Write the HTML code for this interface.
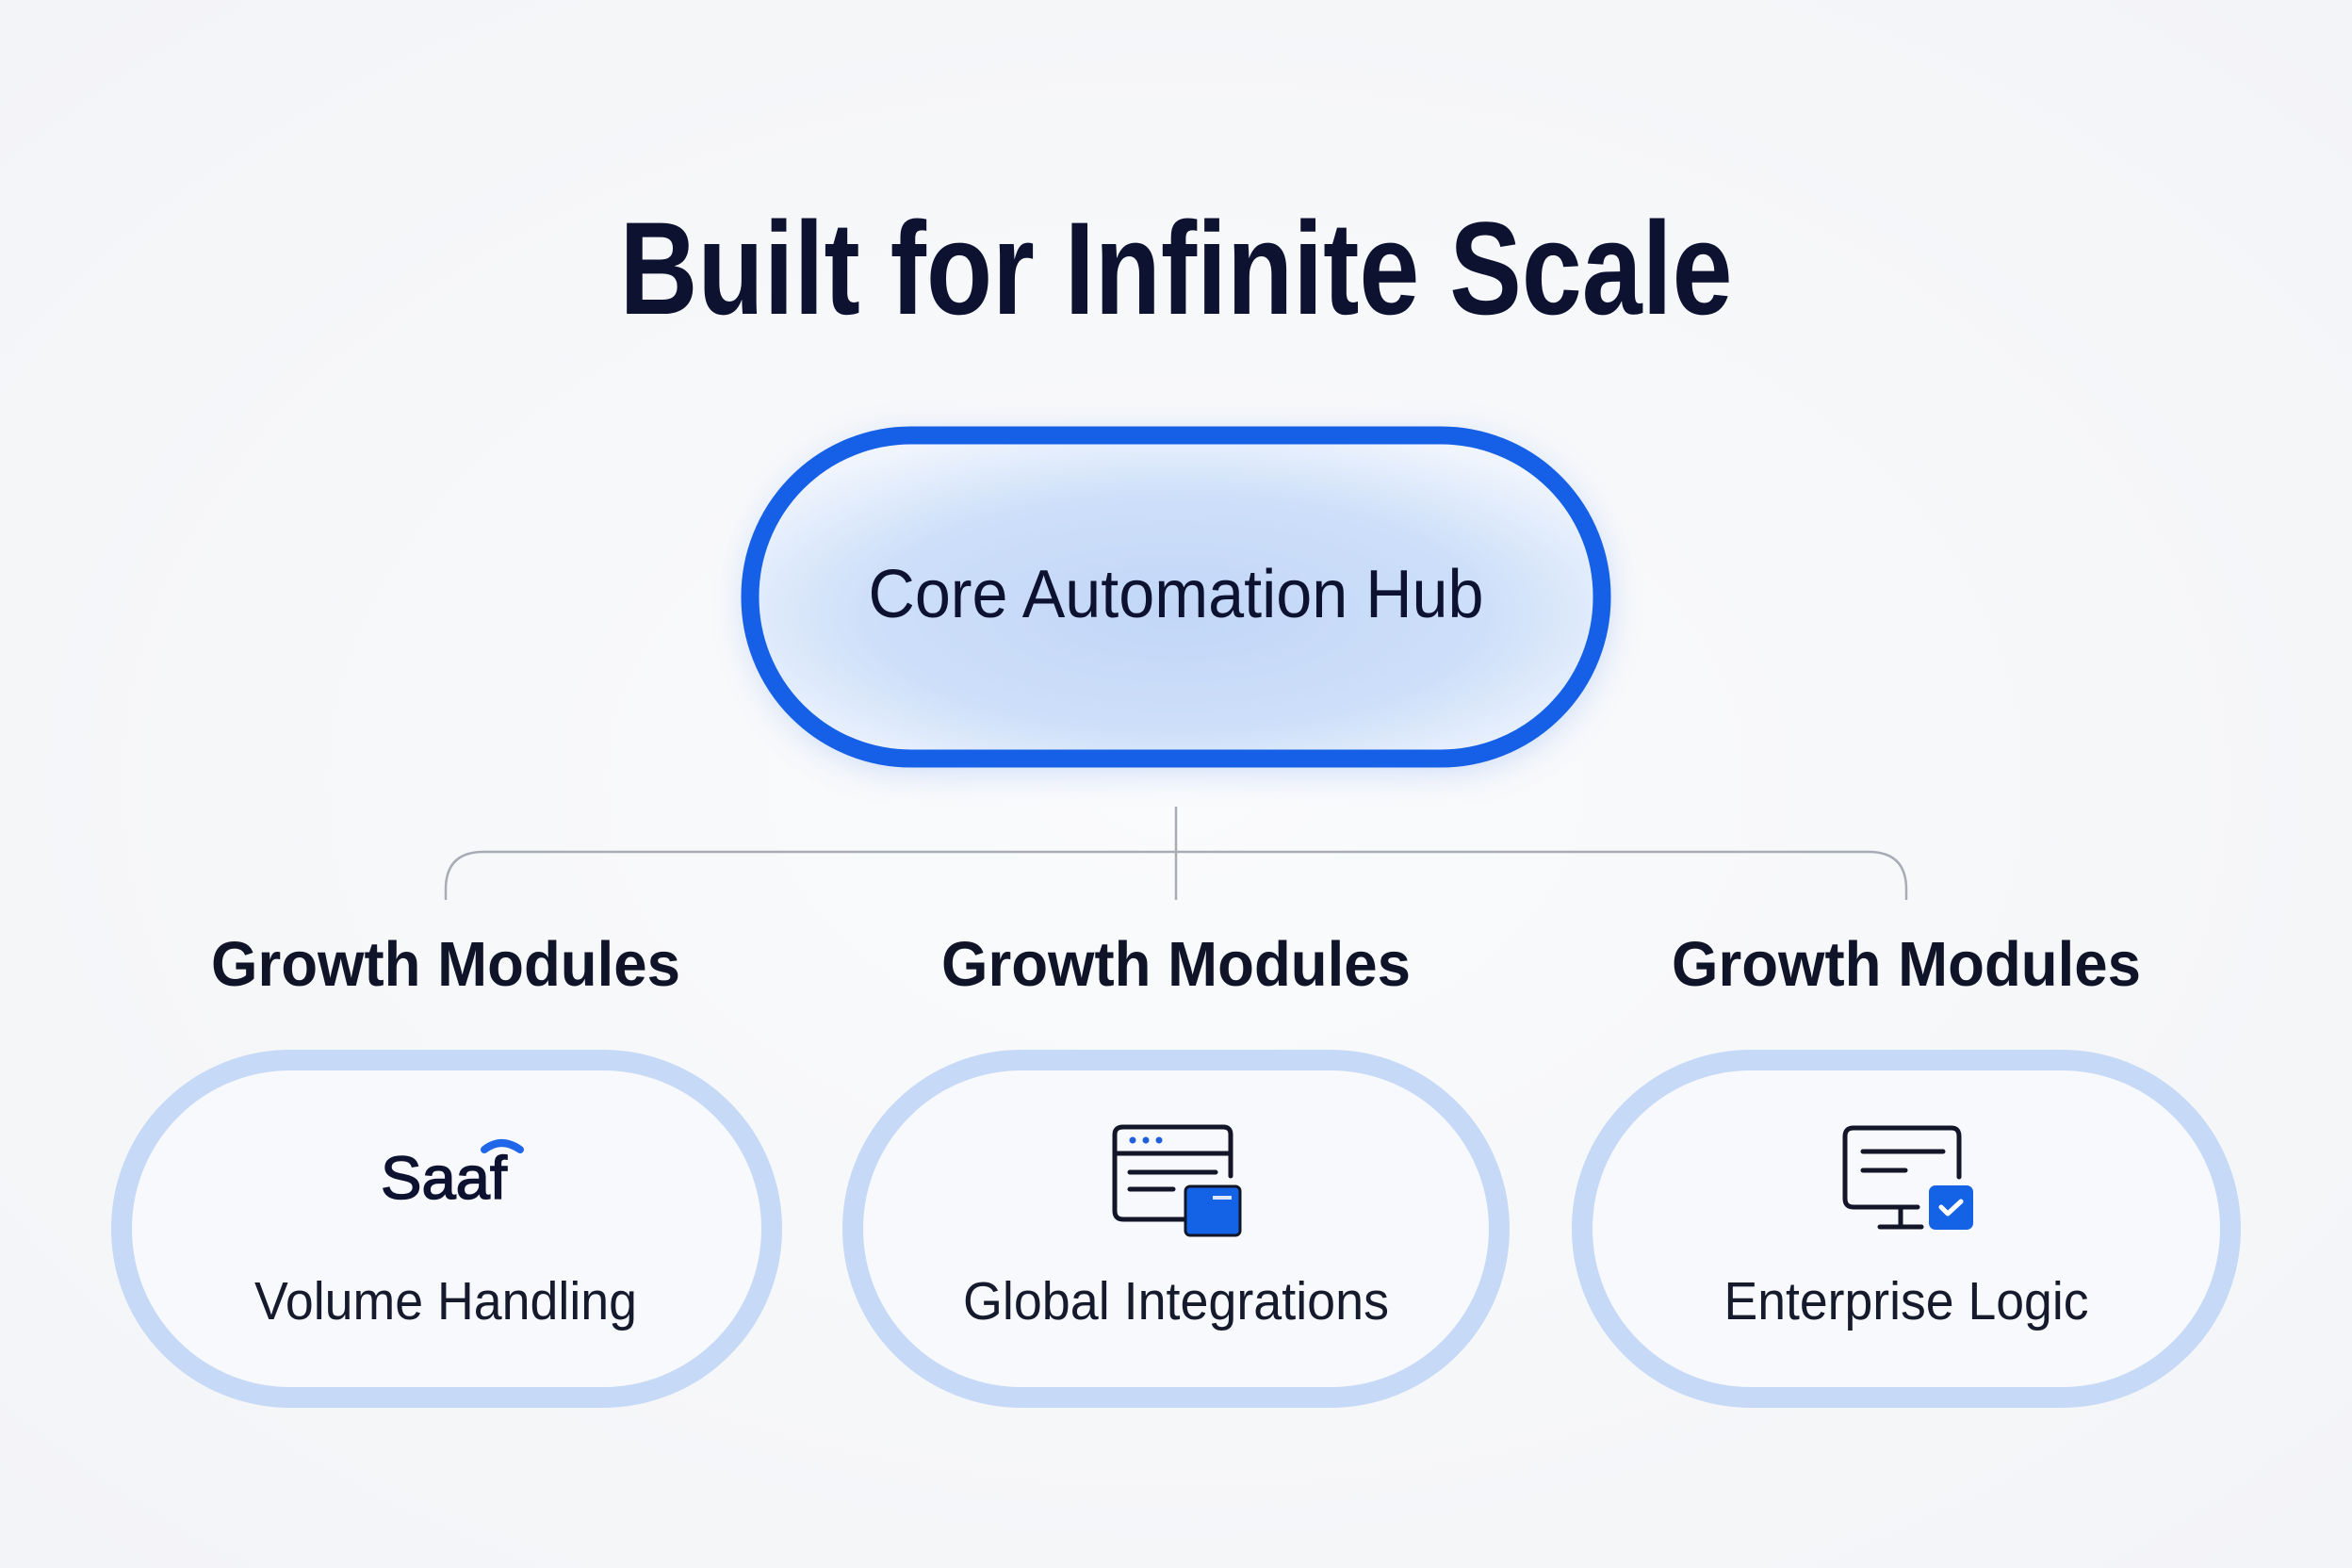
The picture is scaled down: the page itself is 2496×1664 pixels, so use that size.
<!DOCTYPE html>
<html><head><style>
html,body{margin:0;padding:0;background:#f6f7f9;}
svg{display:block;}
text{font-family:"Liberation Sans",sans-serif;}
</style></head><body>
<svg width="2496" height="1664" viewBox="0 0 2496 1664" xmlns="http://www.w3.org/2000/svg">
<defs>
<radialGradient id="bg" cx="50%" cy="50%" r="70%"><stop offset="0" stop-color="#fafbfc"/><stop offset="1" stop-color="#f3f4f7"/></radialGradient>
<radialGradient id="hub" cx="50%" cy="55%" r="60%"><stop offset="0" stop-color="#c2d6f7"/><stop offset="0.6" stop-color="#cddff9"/><stop offset="1" stop-color="#f0f5fd"/></radialGradient>
<filter id="glow" x="-20%" y="-30%" width="140%" height="160%"><feGaussianBlur stdDeviation="22"/></filter>
</defs>
<rect width="2496" height="1664" fill="url(#bg)"/>
<text x="1248" y="333" text-anchor="middle" font-size="140" font-weight="bold" fill="#0c1230" textLength="1181" lengthAdjust="spacingAndGlyphs">Built for Infinite Scale</text>
<rect x="800" y="470" width="900" height="340" rx="170" fill="#3b7bf0" opacity="0.35" filter="url(#glow)"/>
<rect x="796" y="462" width="904" height="343" rx="171" fill="url(#hub)" stroke="#1560e6" stroke-width="19"/>
<text x="1248" y="655" text-anchor="middle" font-size="72" fill="#0c1230" textLength="653" lengthAdjust="spacingAndGlyphs">Core Automation Hub</text>
<g fill="none" stroke="#a8adb5" stroke-width="2.5">
<line x1="1248" y1="856" x2="1248" y2="955"/>
<path d="M473 955 V944 Q473 904 513 904 H1983 Q2023 904 2023 944 V955"/>
</g>
<g font-size="67" font-weight="bold" fill="#0f1428" text-anchor="middle">
<text x="473" y="1046" textLength="498" lengthAdjust="spacingAndGlyphs">Growth Modules</text>
<text x="1248" y="1046" textLength="498" lengthAdjust="spacingAndGlyphs">Growth Modules</text>
<text x="2023" y="1046" textLength="498" lengthAdjust="spacingAndGlyphs">Growth Modules</text>
</g>
<g fill="#f8f9fc" stroke="#c6d9f7" stroke-width="22">
<rect x="129" y="1125" width="690" height="358" rx="179"/>
<rect x="905" y="1125" width="686" height="358" rx="179"/>
<rect x="1679" y="1125" width="688" height="358" rx="179"/>
</g>
<g font-size="57" fill="#151a2c" text-anchor="middle">
<text x="473" y="1400" textLength="406" lengthAdjust="spacingAndGlyphs">Volume Handling</text>
<text x="1248" y="1400" textLength="452" lengthAdjust="spacingAndGlyphs">Global Integrations</text>
<text x="2023" y="1400" textLength="387" lengthAdjust="spacingAndGlyphs">Enterprise Logic</text>
</g>
<text x="471" y="1272" text-anchor="middle" font-size="64" fill="#0c1230" stroke="#0c1230" stroke-width="1.5" textLength="134" lengthAdjust="spacingAndGlyphs">Saaf</text>
<path d="M514 1220 Q532 1206 552 1220" fill="none" stroke="#1f66e8" stroke-width="8" stroke-linecap="round"/>
<g fill="none" stroke="#121628" stroke-width="5" stroke-linecap="round">
<path d="M1257 1294 H1192 Q1183 1294 1183 1285 V1204 Q1183 1196 1192 1196 H1298 Q1306 1196 1306 1204 V1248"/>
<line x1="1183" y1="1224" x2="1306" y2="1224"/>
<line x1="1199" y1="1244" x2="1290" y2="1244"/>
<line x1="1199" y1="1262" x2="1245" y2="1262"/>
</g>
<g fill="#1f5fdc"><circle cx="1202" cy="1210" r="3.5"/><circle cx="1216" cy="1210" r="3.5"/><circle cx="1230" cy="1210" r="3.5"/></g>
<rect x="1258" y="1259" width="58" height="52" rx="5" fill="#1463e6" stroke="#121628" stroke-width="3"/>
<line x1="1287" y1="1271" x2="1307" y2="1271" stroke="#dbe8ff" stroke-width="4"/>
<g fill="none" stroke="#121628" stroke-width="5" stroke-linecap="round">
<path d="M2035 1281 H1967 Q1958 1281 1958 1272 V1206 Q1958 1197 1967 1197 H2071 Q2079 1197 2079 1206 V1249"/>
<line x1="1977" y1="1222" x2="2062" y2="1222"/>
<line x1="1977" y1="1242" x2="2022" y2="1242"/>
<line x1="2017" y1="1282" x2="2017" y2="1302"/>
<line x1="1995" y1="1302" x2="2039" y2="1302"/>
</g>
<rect x="2047" y="1258" width="47" height="47" rx="7" fill="#1463e6"/>
<path d="M2060 1281 L2067 1288 L2081 1275" fill="none" stroke="#fff" stroke-width="5" stroke-linecap="round" stroke-linejoin="round"/>
</svg>
</body></html>
